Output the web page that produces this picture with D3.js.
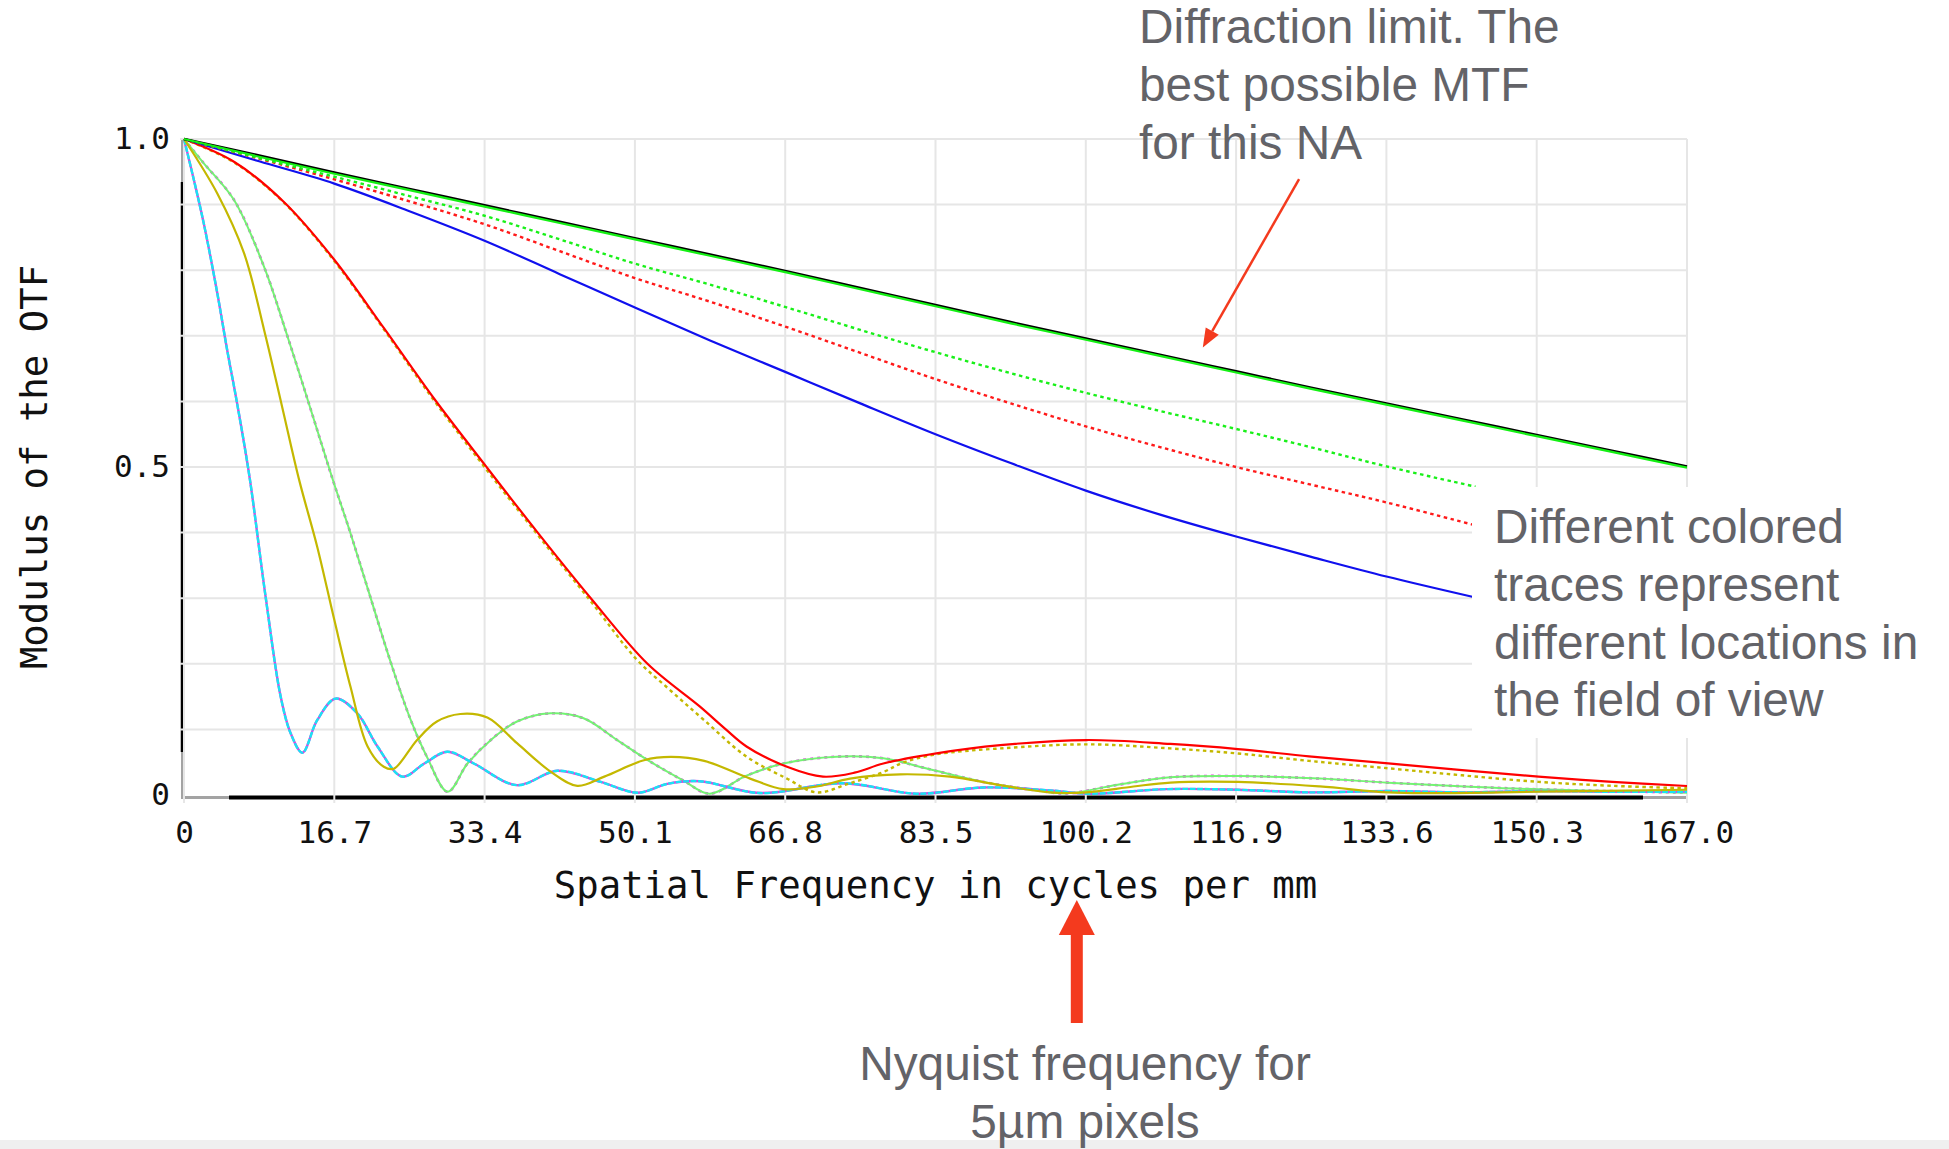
<!DOCTYPE html>
<html>
<head>
<meta charset="utf-8">
<script src="https://cdn.jsdelivr.net/npm/d3@7"></script>
<style>
	body { margin: 0; background: #fff; }
	svg { display: block; }
</style>
</head>
<body>
<div id="chart"></div>
<script>
// Tick values and labels
var xTicks = [0, 16.7, 33.4, 50.1, 66.8, 83.5, 100.2, 116.9, 133.6, 150.3, 167.0];
var xTickLabels = ["0", "16.7", "33.4", "50.1", "66.8", "83.5", "100.2", "116.9", "133.6", "150.3", "167.0"];
var yGrid = [0, 0.1, 0.2, 0.3, 0.4, 0.5, 0.6, 0.7, 0.8, 0.9, 1.0];
var yTicks = [0, 0.5, 1.0];
var yTickLabels = ["0", "0.5", "1.0"];

// MTF traces, [cycles per mm, modulus]
var diffLimit = [[0,1.000],[8.35,0.975],[16.7,0.949],[25.05,0.924],[33.4,0.899],[41.75,0.874],[50.1,0.849],[58.45,0.824],[66.8,0.799],[75.15,0.773],[83.5,0.747],[91.85,0.721],[100.2,0.696],[108.55,0.671],[116.9,0.646],[125.25,0.621],[133.6,0.597],[141.95,0.573],[150.3,0.549],[158.65,0.525],[167,0.501]];
var greenTan = [[0,1.000],[8.35,0.973],[16.7,0.947],[25.05,0.922],[33.4,0.897],[41.75,0.872],[50.1,0.847],[58.45,0.822],[66.8,0.797],[75.15,0.771],[83.5,0.745],[91.85,0.719],[100.2,0.694],[108.55,0.669],[116.9,0.644],[125.25,0.619],[133.6,0.595],[141.95,0.571],[150.3,0.547],[158.65,0.523],[167,0.499]];
var greenSag = [[0,1],[8.35,0.971],[16.7,0.9425],[25.05,0.913],[33.4,0.883],[41.75,0.847],[50.1,0.810],[58.45,0.778],[66.8,0.744],[75.15,0.709],[83.5,0.675],[91.85,0.643],[100.2,0.613],[108.55,0.585],[116.9,0.558],[125.25,0.530],[133.6,0.501],[143.5,0.470]];
var redSag = [[0,1],[8.35,0.970],[16.7,0.9385],[25.05,0.905],[33.4,0.870],[41.75,0.829],[50.1,0.788],[58.45,0.752],[66.8,0.714],[75.15,0.674],[83.5,0.634],[91.85,0.597],[100.2,0.562],[108.55,0.530],[116.9,0.500],[125.25,0.473],[133.6,0.446],[143.5,0.411]];
var blueTan = [[0,1],[8.35,0.966],[16.7,0.932],[25.05,0.890],[33.4,0.845],[41.75,0.794],[50.1,0.743],[58.45,0.693],[66.8,0.645],[75.15,0.597],[83.5,0.550],[91.85,0.506],[100.2,0.464],[108.55,0.427],[116.9,0.394],[125.25,0.363],[133.6,0.333],[143.5,0.301]];
var redTan = [[0,1],[5.6,0.965],[11.1,0.904],[16.7,0.816],[22.2,0.712],[27.8,0.604],[33.5,0.502],[39.3,0.4],[45.2,0.3],[51.5,0.2],[57.3,0.135],[60.2,0.1],[62.5,0.074],[67,0.043],[71,0.028],[74.5,0.034],[77.7,0.048],[83.6,0.0635],[90.7,0.076],[100.3,0.0838],[109.6,0.0778],[117.1,0.070],[125,0.059],[133.8,0.0483],[142,0.038],[150.5,0.028],[158.7,0.020],[167,0.0137]];
var oliveSag = [[0,1],[5.6,0.964],[11.1,0.903],[16.7,0.814],[22.2,0.710],[27.8,0.601],[33.5,0.498],[39.5,0.393],[45.5,0.29],[50.2,0.208],[54,0.16],[57.8,0.114],[62.5,0.0585],[67,0.025],[70.3,0.004],[74,0.018],[77.7,0.035],[80,0.050],[83.6,0.062],[90.7,0.071],[100.3,0.0772],[109.6,0.071],[117.1,0.0633],[125,0.052],[133.8,0.0407],[142,0.030],[150.5,0.020],[158.7,0.014],[167,0.0102]];
var oliveTan = [[0,1],[3.7,0.917],[6.67,0.826],[8.9,0.709],[10.9,0.592],[12.8,0.48],[14.8,0.3785],[16.7,0.267],[18.5,0.165],[20.4,0.074],[22.2,0.043],[23.3,0.040],[25.9,0.084],[28.1,0.112],[30.7,0.1235],[33.7,0.118],[37.0,0.079],[40.7,0.036],[43.7,0.014],[46.7,0.028],[51.1,0.053],[54.1,0.058],[57.8,0.052],[62.9,0.025],[66.6,0.009],[70.3,0.013],[74,0.025],[79.6,0.0315],[85.1,0.028],[90.7,0.015],[96.2,0.004],[100.3,0.004],[105.5,0.013],[109.6,0.019],[117.1,0.020],[126.2,0.013],[133.8,0.004],[139.2,0.003],[150.5,0.005],[167,0.008]];
var lightGreenTan = [[0,1],[2.2,0.963],[5.56,0.907],[8.9,0.805],[11.5,0.699],[14.1,0.587],[16.5,0.482],[18.5,0.399],[20.7,0.302],[23.0,0.201],[25.2,0.114],[27.0,0.058],[29.3,0.005],[31.5,0.048],[34.1,0.084],[37.0,0.112],[40.7,0.1245],[44.4,0.117],[48.1,0.084],[51.9,0.050],[55.5,0.022],[58.4,0.002],[62.5,0.0295],[66.6,0.048],[72.5,0.0584],[77.7,0.0559],[83.2,0.038],[88.8,0.020],[94.4,0.0076],[98.1,0.0025],[103.6,0.0152],[109.6,0.027],[117.1,0.0289],[126.2,0.025],[133.8,0.0188],[142.9,0.0127],[150.5,0.0086],[167,0.0036]];
var steepTan = [[0,1],[1.1,0.9375],[2.2,0.871],[3.7,0.765],[4.8,0.678],[5.9,0.597],[7.3,0.483],[9.07,0.302],[10.74,0.150],[11.85,0.094],[13.15,0.0645],[14.8,0.114],[16.85,0.147],[19.26,0.1245],[21.5,0.074],[24.26,0.028],[26.7,0.048],[29.26,0.066],[32.2,0.048],[37.0,0.015],[41.5,0.037],[46.3,0.020],[50.4,0.0035],[53.7,0.017],[57.3,0.021],[64,0.003],[73.2,0.018],[81.4,0.002],[88.8,0.0115],[96.2,0.007],[100.5,0.002],[109.2,0.009],[117,0.008],[125,0.004],[133.8,0.006],[142,0.004],[150.5,0.006],[158,0.005],[167,0.005]];

var width = 1949, height = 1149;
var plotLeft = 184, plotRight = 1687, plotTop = 139, plotBottom = 795;

var x = d3.scaleLinear().domain([0, 167]).range([plotLeft, plotRight]);
var y = d3.scaleLinear().domain([0, 1]).range([plotBottom, plotTop]);

var svg = d3.select("#chart")
	.append("svg")
	.attr("width", width)
	.attr("height", height);

svg.append("rect").attr("width", width).attr("height", height).attr("fill", "#fff");

// Bottom strip
svg.append("rect").attr("x", 0).attr("y", 1140).attr("width", width).attr("height", 9)
	.attr("fill", "#efefef");

// Axis lines (black with grey ends, like the original plot window)
svg.append("line").attr("x1", 182.5).attr("x2", 182.5).attr("y1", plotTop).attr("y2", 797)
	.attr("stroke", "#a3a3a3").attr("stroke-width", 3);
svg.append("line").attr("x1", 182.5).attr("x2", 182.5).attr("y1", 182).attr("y2", 752)
	.attr("stroke", "#000").attr("stroke-width", 3.5);
svg.append("line").attr("x1", 181).attr("x2", plotRight).attr("y1", 797.5).attr("y2", 797.5)
	.attr("stroke", "#a3a3a3").attr("stroke-width", 3);
svg.append("line").attr("x1", 229).attr("x2", 1643).attr("y1", 797.5).attr("y2", 797.5)
	.attr("stroke", "#000").attr("stroke-width", 4);

// Grid
svg.append("g").selectAll("line").data(xTicks).enter().append("line")
	.attr("x1", function(d) { return x(d); })
	.attr("x2", function(d) { return x(d); })
	.attr("y1", plotTop).attr("y2", plotBottom + 8)
	.attr("stroke", "#e6e6e6").attr("stroke-width", 2);
svg.append("g").selectAll("line").data(yGrid.slice(1)).enter().append("line")
	.attr("x1", plotLeft - 4).attr("x2", plotRight)
	.attr("y1", function(d) { return y(d); })
	.attr("y2", function(d) { return y(d); })
	.attr("stroke", "#e6e6e6").attr("stroke-width", 2);

// Traces
var valueline = d3.line()
	.x(function(d) { return x(d[0]); })
	.y(function(d) { return y(d[1]); })
	.curve(d3.curveCatmullRom.alpha(0.5));

var traces = [
	{ data: lightGreenTan, color: "#e040e0", dash: "3,4", w: 2.6 },
	{ data: lightGreenTan, color: "#74f274", dash: null, w: 2 },
	{ data: steepTan, color: "#e040e0", dash: null, w: 2.4 },
	{ data: steepTan, color: "#18e4f4", dash: "6,1.5", w: 2.4 },
	{ data: oliveTan, color: "#c4b800", dash: null, w: 2.2 },
	{ data: oliveSag, color: "#c4b800", dash: "3.5,3.5", w: 2.4 },
	{ data: redTan, color: "#ff0000", dash: null, w: 2.2 },
	{ data: blueTan, color: "#1010ee", dash: null, w: 2.2 },
	{ data: redSag, color: "#ff1a1a", dash: "3.5,3.5", w: 2.4 },
	{ data: greenSag, color: "#19f019", dash: "3.5,3.5", w: 2.4 },
	{ data: diffLimit, color: "#000", dash: null, w: 2.4 },
	{ data: greenTan, color: "#14f014", dash: null, w: 2.2 }
];

svg.append("g").selectAll("path").data(traces).enter().append("path")
	.attr("d", function(d) { return valueline(d.data); })
	.attr("fill", "none")
	.attr("stroke", function(d) { return d.color; })
	.attr("stroke-width", function(d) { return d.w; })
	.attr("stroke-dasharray", function(d) { return d.dash; });

// Tick labels
var xAxis = d3.axisBottom(x).tickValues(xTicks)
	.tickFormat(function(d, i) { return xTickLabels[i]; })
	.tickSize(0).tickPadding(26);
var yAxis = d3.axisLeft(y).tickValues(yTicks)
	.tickFormat(function(d, i) { return yTickLabels[i]; })
	.tickSize(0).tickPadding(14);

var gx = svg.append("g").attr("transform", "translate(0," + plotBottom + ")").call(xAxis);
var gy = svg.append("g").attr("transform", "translate(" + plotLeft + ",0)").call(yAxis);
[gx, gy].forEach(function(g) {
	g.select(".domain").remove();
	g.selectAll("text")
		.attr("font-family", "DejaVu Sans Mono, monospace")
		.attr("font-size", 31)
		.attr("fill", "#111");
});

// Axis titles
svg.append("text")
	.attr("x", (plotLeft + plotRight) / 2).attr("y", 898)
	.attr("text-anchor", "middle")
	.attr("font-family", "DejaVu Sans Mono, monospace")
	.attr("font-size", 37.3).attr("fill", "#111")
	.text("Spatial Frequency in cycles per mm");
svg.append("text")
	.attr("transform", "translate(47," + (plotTop + plotBottom) / 2 + ") rotate(-90)")
	.attr("text-anchor", "middle")
	.attr("font-family", "DejaVu Sans Mono, monospace")
	.attr("font-size", 37.3).attr("fill", "#111")
	.text("Modulus of the OTF");

// Annotations
var noteFont = "Liberation Sans, Arial, sans-serif";
var noteColor = "#636368";
var arrowColor = "#f43a1e";

svg.append("rect").attr("x", 1472).attr("y", 487).attr("width", width - 1472).attr("height", 251)
	.attr("fill", "#fff");

function note(lines, xPos, y0, anchor) {
	svg.append("g").selectAll("text").data(lines).enter().append("text")
		.attr("x", xPos)
		.attr("y", function(d, i) { return y0 + i * 57.8; })
		.attr("text-anchor", anchor)
		.attr("font-family", noteFont)
		.attr("font-size", 47.8)
		.attr("fill", noteColor)
		.text(function(d) { return d; });
}

note(["Diffraction limit. The", "best possible MTF", "for this NA"], 1139, 43, "start");
note(["Different colored", "traces represent", "different locations in", "the field of view"], 1494, 543, "start");
note(["Nyquist frequency for", "5\u00b5m pixels"], 1085, 1080, "middle");

// Arrow to the diffraction limit curve
var s = [x(123.9), y(0.939)], t = [x(113.2), y(0.682)];
var dx = t[0] - s[0], dy = t[1] - s[1], len = Math.sqrt(dx * dx + dy * dy);
var ux = dx / len, uy = dy / len, hl = 19, hw = 7.5;
var bx = t[0] - hl * ux, by = t[1] - hl * uy;
svg.append("line").attr("x1", s[0]).attr("y1", s[1]).attr("x2", bx).attr("y2", by)
	.attr("stroke", arrowColor).attr("stroke-width", 2.5);
svg.append("path")
	.attr("d", "M" + t[0] + "," + t[1] + "L" + (bx - hw * uy) + "," + (by + hw * ux) + "L" + (bx + hw * uy) + "," + (by - hw * ux) + "Z")
	.attr("fill", arrowColor);

// Arrow for the Nyquist frequency
var nx = x(99.2);
svg.append("rect").attr("x", nx - 6).attr("y", 934).attr("width", 12).attr("height", 89)
	.attr("fill", arrowColor);
svg.append("path")
	.attr("d", "M" + nx + ",900L" + (nx + 18) + ",935L" + (nx - 18) + ",935Z")
	.attr("fill", arrowColor);
</script>
</body>
</html>
